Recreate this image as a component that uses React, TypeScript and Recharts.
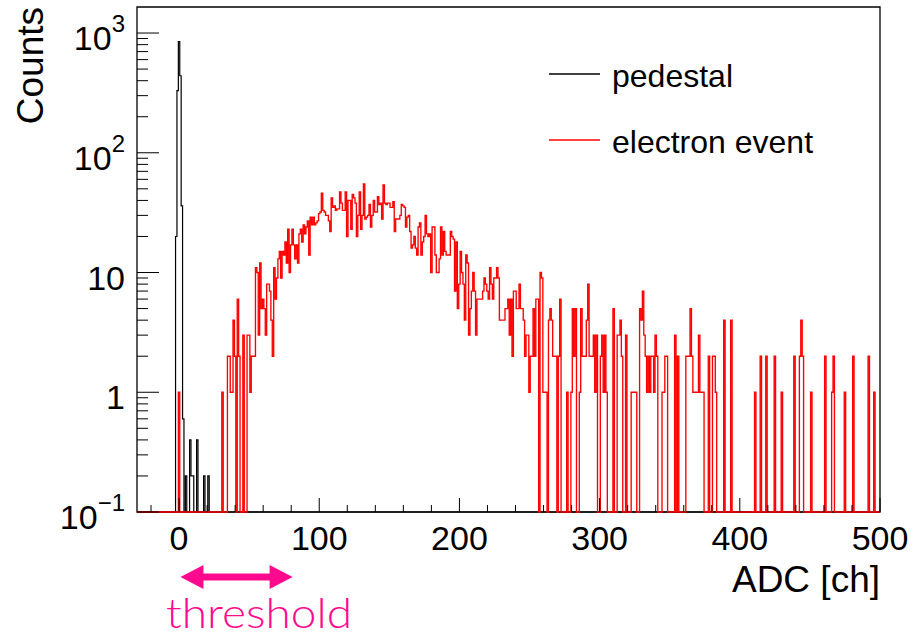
import React from "react";
import { Label, Legend, Line, LineChart, ReferenceArea, XAxis, YAxis } from "recharts";

// ADC spectrum, one bin per channel (bin centred on the channel number)
const X_MIN = -30;
const X_MAX = 500;
const Y_MIN = 0.1; // log axis floor, empty bins sit here
const Y_MAX = 1650;

// pedestal run (scaled), channels -3 .. 22
const pedestalStart = -3;
const pedestalCounts = [
  0, 20, 330, 850, 440, 36, 0.6, 0, 0.2, 0, 0, 0.4, 0.2, 0.2, 0, 0,
  0.4, 0, 0, 0, 0, 0.2, 0, 0, 0.2, 0,
];

// electron events, channels 0 .. 279
const electronCounts = [
  1, 0, 0, 0, 0, 0, 0, 0, 0, 0,
  0, 0, 0, 0, 0, 0, 0, 0, 0, 0,
  0, 0, 0, 0, 0, 0, 0, 0, 0, 0,
  0, 1, 0, 0, 0, 2, 2, 1, 1, 4,
  2, 0, 6, 2, 0, 0, 3, 0, 0, 3,
  3, 1, 2, 2, 2, 11, 10, 3, 12, 5,
  6, 5, 3, 8, 8, 7, 4, 2, 11, 6,
  9, 13, 15, 9, 15, 14, 18, 12, 23, 10,
  17, 23, 17, 13, 17, 12, 21, 23, 18, 25,
  21, 24, 27, 14, 29, 25, 29, 25, 26, 27,
  31, 32, 46, 33, 32, 30, 30, 27, 22, 42,
  35, 36, 33, 34, 34, 47, 38, 33, 33, 47,
  20, 40, 40, 23, 45, 42, 38, 20, 30, 47,
  23, 30, 55, 28, 29, 30, 37, 24, 30, 40,
  32, 32, 43, 37, 38, 28, 54, 38, 37, 38,
  38, 35, 35, 39, 22, 28, 28, 28, 30, 37,
  36, 35, 24, 29, 30, 22, 16, 17, 20, 16,
  14, 24, 26, 14, 18, 20, 30, 21, 20, 21,
  10, 24, 24, 14, 10, 10, 13, 24, 14, 22,
  15, 14, 14, 14, 22, 20, 19, 7, 18, 5,
  8, 15, 10, 8, 4, 14, 12, 3, 5, 7,
  10, 7, 3, 6, 6, 6, 6, 7, 9, 8,
  7, 6, 11, 8, 6, 9, 9, 11, 9, 4,
  4, 4, 4, 5, 5, 6, 3, 6, 2, 7,
  7, 5, 5, 8, 5, 5, 4, 2, 3, 3,
  1, 2, 2, 5, 2, 6, 6, 0, 10, 9,
  1, 1, 1, 0, 4, 5, 4, 2, 2, 2,
  0, 2, 6, 0, 0, 0, 0, 1, 0, 0,
];

// sparse tail above channel 280: [channel, counts]
const electronTail: [number, number][] = [
  [280, 1], [281, 5], [282, 2], [283, 5], [286, 1], [287, 5], [288, 2], [289, 2],
  [290, 2], [291, 4], [292, 8], [293, 2], [294, 2], [295, 2], [296, 3], [297, 1],
  [298, 3], [301, 2], [302, 3], [303, 1], [304, 3], [305, 1], [310, 5], [313, 3],
  [314, 3], [315, 4], [316, 2], [319, 3], [323, 1], [324, 1], [325, 1], [326, 1],
  [329, 5], [330, 4], [331, 7], [332, 3], [333, 2], [334, 1], [335, 2], [336, 1],
  [337, 2], [338, 2], [339, 1], [340, 3], [341, 2], [345, 1], [346, 1], [347, 2],
  [348, 2], [354, 3], [356, 2], [362, 2], [363, 2], [364, 2], [365, 5], [366, 2],
  [367, 1], [368, 1], [369, 1], [370, 1], [371, 3], [372, 1], [373, 1], [374, 1],
  [378, 2], [381, 2], [382, 2], [383, 1], [389, 4], [394, 4], [411, 1], [415, 2],
  [419, 2], [425, 2], [430, 1], [439, 2], [443, 2], [444, 4], [445, 2], [451, 1],
  [461, 2], [466, 1], [467, 2], [475, 1], [481, 2], [492, 2], [496, 1],
];

const seriesNames = ["pedestal", "electron event"];
const xTicks = [-20, 0, 20, 40, 60, 80, 100, 120, 140, 160, 180, 200, 220, 240, 260, 280,
  300, 320, 340, 360, 380, 400, 420, 440, 460, 480, 500];
const yTicks = [
  0.1, 0.2, 0.3, 0.4, 0.5, 0.6, 0.7, 0.8, 0.9,
  1, 2, 3, 4, 5, 6, 7, 8, 9,
  10, 20, 30, 40, 50, 60, 70, 80, 90,
  100, 200, 300, 400, 500, 600, 700, 800, 900,
  1000,
];
const threshold = [1, 81];

const FONT = "'Liberation Sans', Arial, Helvetica, sans-serif";
const MAGENTA = "#ff0a8f";

const W = 914;
const H = 637;
const PLOT_LEFT = 137;
const PLOT_RIGHT = 880;
const PLOT_TOP = 7;
const PLOT_BOTTOM = 512;

const tail = new Map(electronTail);
const rows: { ch: number; pedestal: number; electron: number }[] = [];
for (let ch = X_MIN; ch <= X_MAX; ch++) {
  const p = pedestalCounts[ch - pedestalStart] ?? 0;
  const e = ch >= 0 && ch < electronCounts.length ? electronCounts[ch] : tail.get(ch) ?? 0;
  rows.push({ ch, pedestal: p > 0 ? p : Y_MIN, electron: e > 0 ? e : Y_MIN });
}

const xPx = (ch: number) =>
  PLOT_LEFT + ((ch - X_MIN) / (X_MAX - X_MIN)) * (PLOT_RIGHT - PLOT_LEFT);

function XTick({ x, y, payload }: any) {
  const v = payload.value;
  const major = v % 100 === 0;
  return (
    <g>
      <line x1={x} x2={x} y1={y} y2={y - (major ? 14 : 7)} stroke="#000" strokeWidth={1} />
      {major && (
        <text x={x} y={y + 38} textAnchor="middle" fontSize={34} fontFamily={FONT} fill="#000">
          {v}
        </text>
      )}
    </g>
  );
}

function YTick({ x, y, payload }: any) {
  const v = payload.value;
  const exp = Math.round(Math.log10(v));
  const major = Math.abs(Math.log10(v) - exp) < 1e-6;
  let label: React.ReactNode = null;
  if (major) {
    if (exp === 0) label = "1";
    else if (exp === 1) label = "10";
    else
      label = (
        <>
          <tspan>10</tspan>
          <tspan dy={-18} fontSize={24}>
            {exp < 0 ? `\u2212${-exp}` : exp}
          </tspan>
        </>
      );
  }
  return (
    <g>
      <line x1={x} x2={x + (major ? 22 : 11)} y1={y} y2={y} stroke="#000" strokeWidth={1} />
      {label && (
        <text x={x - 12} y={y + 17} textAnchor="end" fontSize={34} fontFamily={FONT} fill="#000">
          {label}
        </text>
      )}
    </g>
  );
}

function LegendBox({ payload }: any) {
  const items = [...(payload || [])].sort(
    (a: any, b: any) => seriesNames.indexOf(a.value) - seriesNames.indexOf(b.value)
  );
  return (
    <svg width={300} height={120}>
      {items.map((item: any, i: number) => (
        <g key={item.value} transform={`translate(0, ${i * 66})`}>
          <line x1={9} x2={60} y1={24} y2={24} stroke={item.color} strokeWidth={1.3} />
          <text x={72} y={37} fontSize={32} fontFamily={FONT} fill="#000">
            {item.value}
          </text>
        </g>
      ))}
    </svg>
  );
}

const xTitle = ({ viewBox }: any) => (
  <text
    x={viewBox.x + viewBox.width}
    y={viewBox.y + 80}
    textAnchor="end"
    fontSize={37}
    fontFamily={FONT}
    fill="#000"
  >
    ADC [ch]
  </text>
);

const yTitle = ({ viewBox }: any) => (
  <text
    transform={`translate(${viewBox.x + viewBox.width - 94}, ${viewBox.y}) rotate(-90)`}
    textAnchor="end"
    fontSize={37}
    fontFamily={FONT}
    fill="#000"
  >
    Counts
  </text>
);

export default function App() {
  const a0 = xPx(threshold[0]);
  const a1 = xPx(threshold[1]);
  const ay = 577;
  const head = 23;
  const arrow = [
    [a0, ay],
    [a0 + head, ay - 12],
    [a0 + head, ay - 3.5],
    [a1 - head, ay - 3.5],
    [a1 - head, ay - 12],
    [a1, ay],
    [a1 - head, ay + 12],
    [a1 - head, ay + 3.5],
    [a0 + head, ay + 3.5],
    [a0 + head, ay + 12],
  ]
    .map((p) => p.join(","))
    .join(" ");

  return (
    <div
      style={{
        position: "absolute",
        left: 0,
        top: 0,
        width: W,
        height: H,
        background: "#fff",
        fontFamily: FONT,
      }}
    >
      <LineChart
        width={W}
        height={H}
        data={rows}
        margin={{ top: PLOT_TOP, right: W - PLOT_RIGHT, bottom: H - PLOT_BOTTOM - 1, left: PLOT_LEFT - 1 }}
      >
        <ReferenceArea
          x1={X_MIN}
          x2={X_MAX}
          y1={Y_MIN}
          y2={Y_MAX}
          fill="none"
          stroke="#000"
          strokeWidth={1.3}
          ifOverflow="visible"
        />
        <XAxis
          dataKey="ch"
          type="number"
          domain={[X_MIN, X_MAX]}
          ticks={xTicks}
          interval={0}
          height={1}
          tickSize={0}
          tickMargin={0}
          tickLine={false}
          axisLine={false}
          tick={<XTick />}
        >
          <Label content={xTitle} />
        </XAxis>
        <YAxis
          type="number"
          scale="log"
          domain={[Y_MIN, Y_MAX]}
          ticks={yTicks}
          interval={0}
          width={1}
          tickSize={0}
          tickMargin={0}
          tickLine={false}
          axisLine={false}
          tick={<YTick />}
        >
          <Label content={yTitle} />
        </YAxis>
        <Legend
          layout="horizontal"
          verticalAlign="middle"
          align="center"
          wrapperStyle={{ left: 540, top: 50, width: 300, height: 120 }}
          content={<LegendBox />}
        />
        <Line
          name="pedestal"
          dataKey="pedestal"
          type="step"
          stroke="#000"
          strokeWidth={1.2}
          dot={false}
          activeDot={false}
          isAnimationActive={false}
        />
        <Line
          name="electron event"
          dataKey="electron"
          type="step"
          stroke="#ff0000"
          strokeWidth={1.35}
          dot={false}
          activeDot={false}
          isAnimationActive={false}
        />
      </LineChart>
      <svg
        width={W}
        height={H}
        style={{ position: "absolute", left: 0, top: 0, pointerEvents: "none" }}
      >
        <polygon points={arrow} fill={MAGENTA} />
        <text
          x={166}
          y={628}
          fontSize={42}
          fontFamily="Lato, 'Open Sans', Roboto, sans-serif"
          fontWeight={300}
          textLength={186}
          lengthAdjust="spacingAndGlyphs"
          fill={MAGENTA}
        >
          threshold
        </text>
      </svg>
    </div>
  );
}
